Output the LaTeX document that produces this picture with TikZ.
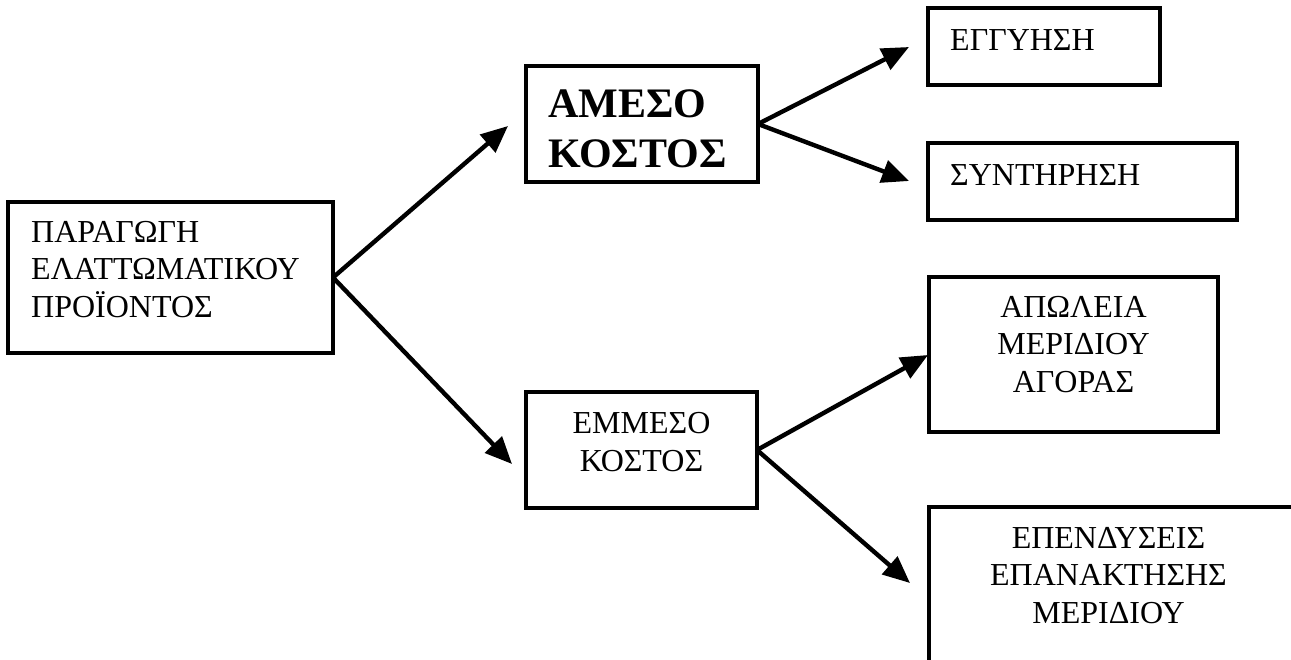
\documentclass[tikz,border=0pt]{standalone}
\usepackage{fontspec}
\setmainfont{Liberation Serif}
\usetikzlibrary{arrows.meta}

\begin{document}
\begin{tikzpicture}[x=1pt,y=-1pt,
  box/.style={draw, line width=3.4pt, rectangle, anchor=north west, inner sep=0pt, outer sep=0pt},
  txt/.style={inner sep=0pt, font=\fontsize{32}{37.5}\selectfont},
  bigtxt/.style={inner sep=0pt, font=\fontsize{42}{50}\selectfont\bfseries},
  arr/.style={line width=4.4pt, -{Triangle[length=27pt,width=23pt]}}]
\useasboundingbox (0,0) rectangle (1291,659);

% boxes
\node[box, minimum width=325pt, minimum height=151pt] (prod) at (8,202) {};
\node[box, minimum width=232pt, minimum height=116pt] (direct) at (526,66) {};
\node[box, minimum width=231pt, minimum height=116pt] (indirect) at (526,392) {};
\node[box, minimum width=232pt, minimum height=77pt] (warranty) at (928,8) {};
\node[box, minimum width=309pt, minimum height=77pt] (maint) at (928,143) {};
\node[box, minimum width=289pt, minimum height=155pt] (loss) at (929,277) {};
\node[box, minimum width=400pt, minimum height=200pt] (invest) at (929,507) {};

% texts (multi-line nodes are placed by the baseline of their last line)
\node[txt, anchor=base west, align=left] (prodT) at (31,317)
  {ΠΑΡΑΓΩΓΗ\\ΕΛΑΤΤΩΜΑΤΙΚΟΥ\\ΠΡΟΪΟΝΤΟΣ};
\node[bigtxt, anchor=base west, align=left] (directT) at (548,167)
  {ΑΜΕΣΟ\\ΚΟΣΤΟΣ};
\node[txt, anchor=base, align=center] (indirectT) at (641.5,471)
  {ΕΜΜΕΣΟ\\ΚΟΣΤΟΣ};
\node[txt, anchor=base west] (warrantyT) at (950,50) {ΕΓΓΥΗΣΗ};
\node[txt, anchor=base west] (maintT) at (950,185) {ΣΥΝΤΗΡΗΣΗ};
\node[txt, anchor=base, align=center] (lossT) at (1073.5,392)
  {ΑΠΩΛΕΙΑ\\ΜΕΡΙΔΙΟΥ\\ΑΓΟΡΑΣ};
\node[txt, anchor=base, align=center] (investT) at (1108.5,623)
  {ΕΠΕΝΔΥΣΕΙΣ\\ΕΠΑΝΑΚΤΗΣΗΣ\\ΜΕΡΙΔΙΟΥ};

% arrow tips (they stop short of the boxes)
\coordinate (tipDirect) at (508,126);
\coordinate (tipIndirect) at (512,464);
\coordinate (tipWarranty) at (909,47);
\coordinate (tipMaint) at (909,181);
\coordinate (tipLoss) at (928,355);
\coordinate (tipInvest) at (910,583);

% connectors
\draw[arr] (prod.east) -- (tipDirect);
\draw[arr] (prod.east) -- (tipIndirect);
\draw[arr] (direct.east) -- (tipWarranty);
\draw[arr] (direct.east) -- (tipMaint);
\draw[arr] (indirect.east) -- (tipLoss);
\draw[arr] (indirect.east) -- (tipInvest);
\end{tikzpicture}
\end{document}
